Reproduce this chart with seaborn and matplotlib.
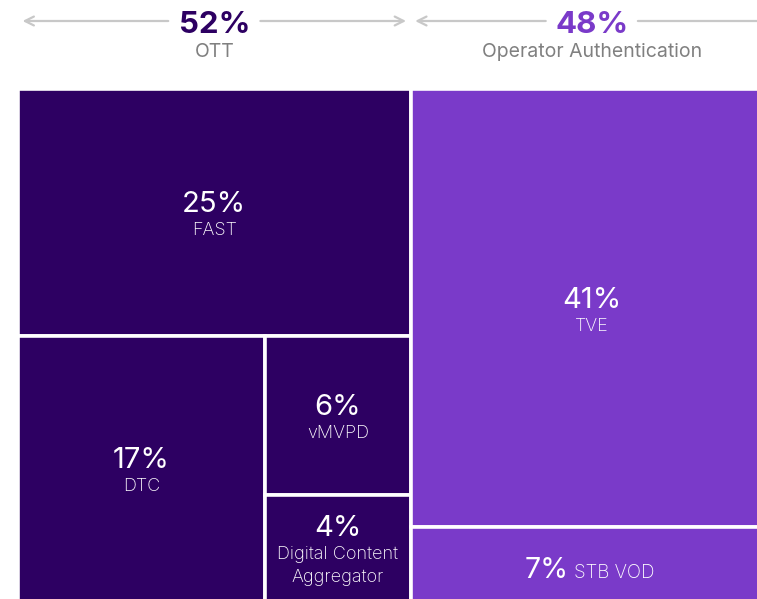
import matplotlib
matplotlib.use("Agg")
import matplotlib.pyplot as plt
from matplotlib.patches import Rectangle
import matplotlib.transforms as mtransforms
import seaborn as sns

sns.set_theme(style="white")
plt.rcParams['font.family'] = ['Inter', 'DejaVu Sans']

# Data
groups = ["OTT", "Operator Authentication"]
group_share = [52, 48]
group_colors = ["#2d0062", "#7a3ac9"]

ott_labels = ["FAST", "DTC", "vMVPD", "Digital Content\nAggregator"]
ott_share = [25, 17, 6, 4]
op_labels = ["TVE", "STB VOD"]
op_share = [41, 7]

PX = 0.72  # points per pixel at dpi 100

fig = plt.figure(figsize=(7.57, 5.99), dpi=100)
fig.patch.set_facecolor("white")
ax = fig.add_axes([18 / 757, -3 / 599, 755 / 757, 513 / 599])
ax.set_xlim(0, 100)
ax.set_ylim(0, 100)
ax.axis("off")


def cell(x, y, w, h, color, pct, label, inline=False):
    ax.add_patch(Rectangle((x, y), w, h, facecolor=color, edgecolor="white",
                           lw=2.6, clip_on=False))
    cx, cy = x + w / 2, y + h / 2
    if inline:
        ax.annotate(f"{pct}%", (cx, cy), xytext=(-23 * PX, -13 * PX),
                    textcoords="offset points", ha="right", va="baseline",
                    color="white", fontsize=20.5)
        ax.annotate(label, (cx, cy), xytext=(-18 * PX, -13 * PX),
                    textcoords="offset points", ha="left", va="baseline",
                    color="white", fontsize=13.5, fontweight="light")
        return
    n = label.count("\n") + 1
    total = 29 + 2 + 24 * n
    sep = -total / 2 + 30  # px below centre
    ax.annotate(f"{pct}%", (cx, cy), xytext=(0, -(sep - 3) * PX),
                textcoords="offset points", ha="center", va="baseline",
                color="white", fontsize=21)
    ax.annotate(label, (cx, cy), xytext=(0, -(sep + 7) * PX),
                textcoords="offset points", ha="center", va="top",
                color="white", fontsize=13, fontweight="light",
                linespacing=1.45)


# OTT block: slice-and-dice layout from the values
w_ott = group_share[0]
x0 = 0
h_fast = ott_share[0] / group_share[0] * 100
cell(x0, 100 - h_fast, w_ott, h_fast, group_colors[0], ott_share[0], ott_labels[0])
rest = sum(ott_share[1:])
h_bot = 100 - h_fast
w_dtc = ott_share[1] / rest * w_ott
cell(x0, 0, w_dtc, h_bot, group_colors[0], ott_share[1], ott_labels[1])
small = ott_share[2] + ott_share[3]
h_vm = ott_share[2] / small * h_bot
cell(x0 + w_dtc, h_bot - h_vm, w_ott - w_dtc, h_vm, group_colors[0],
     ott_share[2], ott_labels[2])
cell(x0 + w_dtc, 0, w_ott - w_dtc, h_bot - h_vm, group_colors[0],
     ott_share[3], ott_labels[3])

# Operator block
x1 = w_ott
w_op = group_share[1]
h_tve = op_share[0] / group_share[1] * 100
cell(x1, 100 - h_tve, w_op, h_tve, group_colors[1], op_share[0], op_labels[0])
cell(x1, 0, w_op, 100 - h_tve, group_colors[1], op_share[1], op_labels[1],
     inline=True)

# Header arrows
trans = mtransforms.blended_transform_factory(ax.transData, fig.transFigure)
y_arrow = 1 - 21 / 599
gap = 6.1
starts = [0, group_share[0]]
for i, (name, share) in enumerate(zip(groups, group_share)):
    a = starts[i]
    b = a + share
    c = a + share / 2
    right_end = b - 0.6 if i == 0 else b + 2
    ax.annotate("", xy=(a + 0.6, y_arrow), xytext=(c - gap, y_arrow),
                xycoords=trans, textcoords=trans, annotation_clip=False,
                arrowprops=dict(arrowstyle="->", color="#c8c8c8", lw=1.6,
                                mutation_scale=16, shrinkA=0, shrinkB=0))
    ax.annotate("", xy=(right_end, y_arrow), xytext=(c + gap, y_arrow),
                xycoords=trans, textcoords=trans, annotation_clip=False,
                arrowprops=dict(arrowstyle="->", color="#c8c8c8", lw=1.6,
                                mutation_scale=16, shrinkA=0, shrinkB=0))
    ax.text(c, 1 - 33 / 599, f"{share}%", transform=trans, ha="center",
            va="baseline", fontsize=22.5, fontweight="bold",
            color=group_colors[i])
    ax.text(c, 1 - 57 / 599, name, transform=trans, ha="center",
            va="baseline", fontsize=14, color="#808080")

fig.savefig("out.png", dpi=100)
